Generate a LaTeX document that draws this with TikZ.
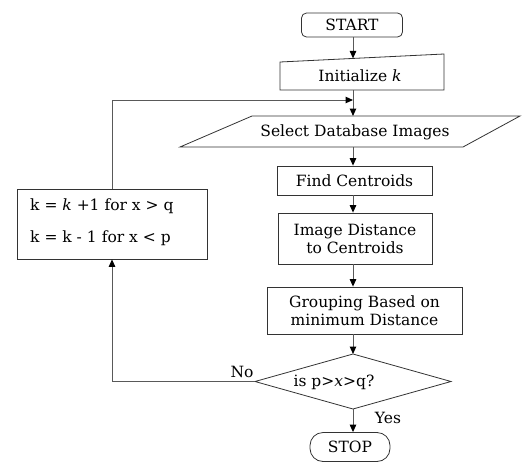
\documentclass[tikz,border=0pt]{standalone}
\usepackage{fontspec}
\setmainfont{DejaVu Serif}
\usetikzlibrary{arrows.meta,shapes.geometric}
\begin{document}
\begin{tikzpicture}[x=1pt,y=-1pt,
  every node/.style={font=\fontsize{15.5}{17}\selectfont, inner sep=0pt},
  shapeline/.style={draw=black!80, line width=0.8pt},
  conn/.style={draw=black!65, line width=1pt},
  arr/.style={conn, -{Triangle[length=7.5pt,width=6.5pt,color=black]}},
  procbox/.style={shapeline, rectangle, align=center}]
\useasboundingbox (0,0) rectangle (525,461);

% terminals
\node[shapeline, rounded corners=5pt, minimum width=101pt, minimum height=24pt] (start) at (352,25) {START};
\node[shapeline, rounded corners=13pt, minimum width=80pt, minimum height=29pt] (stop) at (350,447) {STOP};

% manual input: initialise k
\draw[shapeline] (280,62) -- (444,54) -- (444,90) -- (280,90) -- cycle;
\node (init) at (360,76) {Initialize \textit{k}};
\coordinate (initT) at (353,58.4);
\coordinate (initB) at (353,90);

% data: select images
\draw[shapeline] (252,116) -- (520,116) -- (463,147) -- (180,147) -- cycle;
\node (sel) at (355,132) {Select Database Images};
\coordinate (selT) at (353,116);
\coordinate (selB) at (353,147);

% process boxes
\node[procbox, minimum width=155pt, minimum height=29pt] (find) at (354.5,180.5) {Find Centroids};
\node[procbox, minimum width=154pt, minimum height=51pt] (dist) at (355,238.5) {Image Distance\\[1pt]to Centroids};
\node[procbox, minimum width=195pt, minimum height=47pt] (group) at (364.5,310.5) {Grouping Based on\\[1pt]minimum Distance};

% decision
\draw[shapeline] (353,354) -- (451,381.5) -- (353,409) -- (255,381.5) -- cycle;
\node (dec) at (334,382) {is p>\textit{x}>q?};
\coordinate (decT) at (353,354);
\coordinate (decB) at (353,409);
\coordinate (decL) at (255,381.5);

% update box
\node[shapeline, minimum width=190pt, minimum height=70pt] (upd) at (112,224) {};
\node[anchor=west] (upd1) at (30,206) {k = \textit{k} +1\hspace{5pt}for x > q};
\node[anchor=west] (upd2) at (30,238) {k = k - 1\hspace{5pt}for x < p};

% labels
\node (no) at (242,372) {No};
\node (yes) at (388,418) {Yes};

% flow along the main axis
\coordinate (loopIn) at (353,100);
\draw[arr] (start.south -| initT) -- (initT);
\draw[conn] (initB) -- (loopIn);
\draw[arr] (loopIn) -- (selT);
\draw[arr] (selB) -- (selB |- find.north);
\draw[arr] (selB |- find.south) -- (selB |- dist.north);
\draw[arr] (selB |- dist.south) -- (selB |- group.north);
\draw[arr] (selB |- group.south) -- (decT);
\draw[arr] (decB) -- (decB |- stop.north);

% feedback loop
\draw[arr] (decL) -- (upd.south |- decL) -- (upd.south);
\draw[arr] (upd.north) -- (upd.north |- loopIn) -- (loopIn);
\end{tikzpicture}
\end{document}
